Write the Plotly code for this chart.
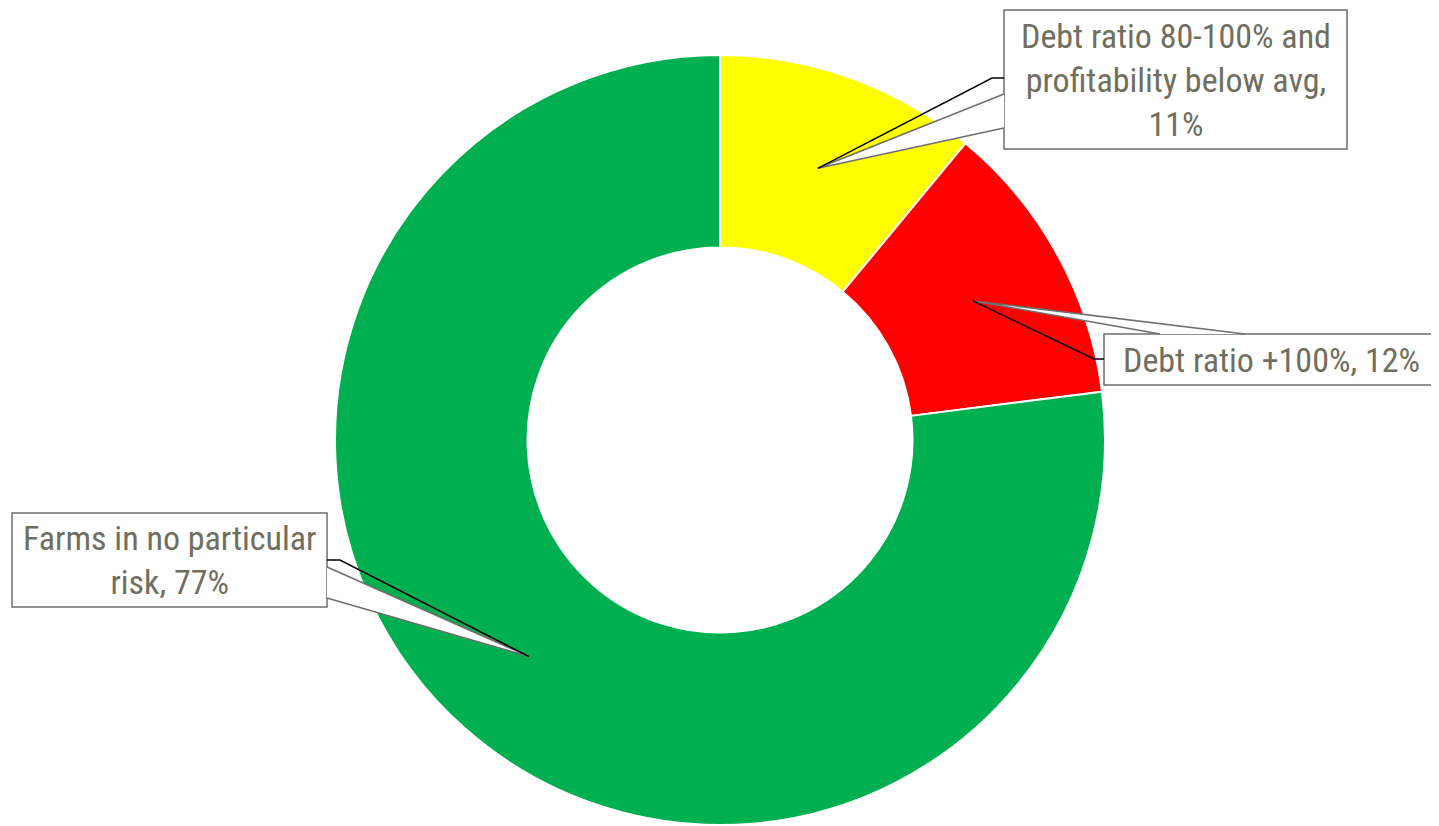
import math
import plotly.graph_objects as go

# ---- data ----
categories = ["Debt ratio 80-100% and profitability below avg",
              "Debt ratio +100%",
              "Farms in no particular risk"]
values = [11, 12, 77]
label_texts = ["Debt ratio 80-100% and<br>profitability below avg,<br>11%",
               "Debt ratio +100%, 12%",
               "Farms in no particular<br>risk, 77%"]
colors = ["#FFFF00", "#FF0000", "#00B050"]

W, H = 1439, 826
OFF = 8  # default page body margin
FW, FH = W - OFF, H - OFF
CX, CY, R_OUT = 720, 440, 385
HOLE = 0.5

def px(x):
    return (x - OFF) / FW

def py(y):
    return 1 - (y - OFF) / FH

fig = go.Figure(go.Pie(
    labels=categories, values=values, sort=False, direction="clockwise",
    rotation=0, hole=HOLE, textinfo="none", hoverinfo="label+percent",
    marker=dict(colors=colors, line=dict(color="white", width=2)),
    domain=dict(x=[px(CX - R_OUT), px(CX + R_OUT)], y=[py(CY + R_OUT), py(CY - R_OUT)]),
    showlegend=False,
))

# anchor points at mid-angle, mid-ring radius
total = sum(values)
r_mid = R_OUT * (1 + HOLE) / 2
anchors = []
cum = 0
for v in values:
    mid = (cum + v / 2) / total * 2 * math.pi
    anchors.append((CX + r_mid * math.sin(mid), CY - r_mid * math.cos(mid)))
    cum += v

# callout boxes (pixel layout): x0, y0, x1, y1
boxes = [(1004, 10, 1347, 149), (1104, 334, 1438, 385), (12, 513, 327, 607)]
# wedge base points and leader elbow per callout
wedges = [((1004, 94), (1004, 128)), ((1160, 334), (1245, 334)), ((327, 567), (327, 598))]
leaders = [((1004, 78), (992, 78)), ((1104, 359), (1094, 359)), ((327, 560), (340, 560))]

grey = "#6E6E6E"
txt = "#706E5F"
shapes = []
annotations = []
for i in range(3):
    x0, y0, x1, y1 = boxes[i]
    shapes.append(dict(type="rect", xref="paper", yref="paper",
                       x0=px(x0), x1=px(x1), y0=py(y1), y1=py(y0),
                       fillcolor="white", line=dict(color=grey, width=1.5)))
    ax, ay = anchors[i]
    (b1x, b1y), (b2x, b2y) = wedges[i]
    shapes.append(dict(type="path", xref="paper", yref="paper",
                       path=f"M {px(b1x)},{py(b1y)} L {px(ax)},{py(ay)} L {px(b2x)},{py(b2y)}",
                       fillcolor="white", line=dict(color=grey, width=1.5)))
    (l1x, l1y), (l2x, l2y) = leaders[i]
    shapes.append(dict(type="path", xref="paper", yref="paper",
                       path=f"M {px(l1x)},{py(l1y)} L {px(l2x)},{py(l2y)} L {px(ax)},{py(ay)}",
                       line=dict(color="black", width=1.5)))
    annotations.append(dict(xref="paper", yref="paper", x=px((x0 + x1) / 2), y=py((y0 + y1) / 2),
                            text=label_texts[i], showarrow=False, xanchor="center", yanchor="middle",
                            align="center",
                            font=dict(family="Liberation Sans Narrow, Arial Narrow, Roboto Condensed, sans-serif",
                                      size=34, color=txt)))

fig.update_layout(width=FW, height=FH, margin=dict(l=0, r=0, t=0, b=0),
                  paper_bgcolor="white", plot_bgcolor="white",
                  shapes=shapes, annotations=annotations)
fig.write_html("out.html")
